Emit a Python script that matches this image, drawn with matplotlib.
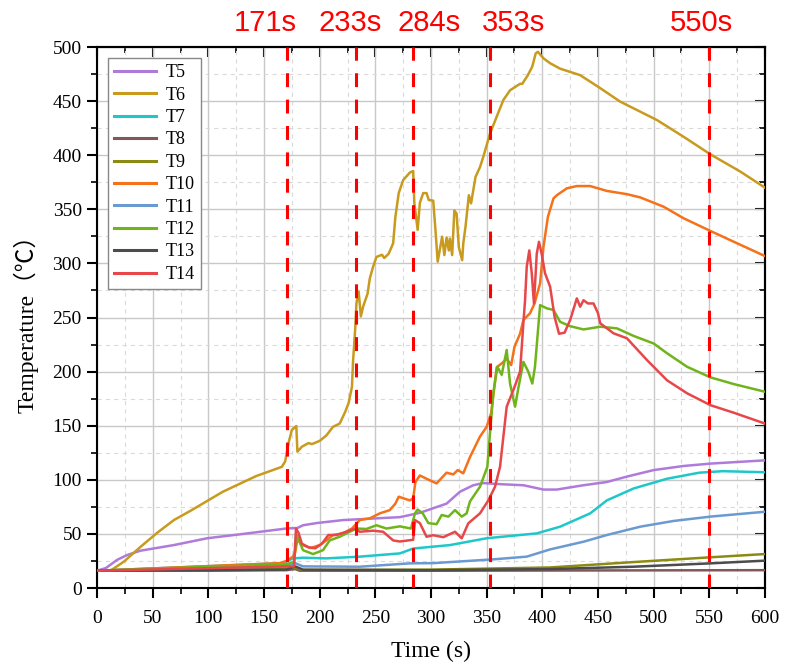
import matplotlib
matplotlib.use("Agg")
import matplotlib.pyplot as plt
import matplotlib.transforms as mtransforms
from matplotlib.ticker import MultipleLocator

# ---------------- data ----------------
labels = ["T5", "T6", "T7", "T8", "T9", "T10", "T11", "T12", "T13", "T14"]
colors = ["#AE7BDB", "#C89B1E", "#1FC7C9", "#80585A", "#8B8A12",
          "#F5711A", "#6A9AD0", "#70B41C", "#4C4C4C", "#E8474A"]

t5_t = [0, 8, 18, 27, 39, 69, 99, 128, 170, 180, 185, 197, 221, 251, 272, 281, 290, 314, 326, 338,
        347, 362, 383, 401, 413, 437, 458, 476, 500, 527, 551, 600]
t5_v = [16, 18.5, 26, 30.5, 34.5, 39.7, 46, 49.6, 55, 55.5, 58, 60, 62.8, 64.4, 65.5, 67.5, 69.5, 78, 89, 95,
        97, 96, 95, 91, 91, 95, 98, 103, 109, 112.8, 115, 118]

t6_t = [0, 12, 24, 39, 54, 69, 84, 113, 143, 166, 169, 172, 175, 179, 180, 184, 190, 193, 200, 206,
        212, 218, 223, 226, 229, 230, 232, 233, 235, 237, 239, 243, 245, 248, 251, 256, 258, 262, 266, 268,
        271, 275, 281, 284, 285, 288, 290, 293, 296, 298, 302, 304, 306, 310, 312, 314, 316, 317, 319, 321,
        323, 325, 328, 329, 331, 334, 336, 340, 344, 347, 353, 359, 365, 371, 380, 382, 387, 391, 394, 396,
        399, 401, 407, 416, 434, 452, 470, 503, 527, 551, 578, 600]
t6_v = [16, 16, 24.3, 38, 51, 62.8, 71.4, 89, 103.5, 112, 117, 134, 146, 149.7, 126, 130.6, 134, 133, 136, 141,
        149, 152, 163, 171, 186, 210, 241, 263, 274, 251, 260, 272, 286, 297, 306, 308, 305, 309, 318.6, 343,
        365, 377, 384, 385.4, 356, 331, 356, 365, 365, 358.6, 358, 331, 301.6, 324.7, 307.7, 324, 312, 323, 307.7, 349,
        346, 315, 303, 318.6, 334, 363, 355.5, 380, 389, 398.6, 420, 435.6, 451, 460, 466, 466, 474, 482, 494, 495.6,
        492, 489.6, 485, 480, 474, 462, 449.5, 432.5, 417, 400.8, 384.8, 370]

t7_t = [0, 167, 176, 185, 206, 236, 260, 272, 284, 317, 350, 395, 416, 443, 458, 482, 512, 541, 562, 600]
t7_v = [16, 23, 27.4, 28, 27.4, 29, 31, 32, 36.5, 39.7, 46, 50.5, 56.7, 69, 81, 92, 101, 106.6, 108, 107]

t8_t = [0, 100, 170, 178, 182, 300, 600]
t8_v = [16, 16, 16.5, 17.5, 16, 16, 16.5]

t9_t = [0, 170, 178, 185, 300, 407, 482, 551, 600]
t9_v = [16, 18, 19, 16.5, 17, 19, 24, 28.4, 31.4]

t10_t = [0, 164, 170, 176, 178, 180, 184, 192, 200, 206, 212, 221, 229, 236, 245, 254, 263, 268, 271, 275,
         281, 284, 286, 290, 296, 305, 314, 320, 324, 329, 335, 344, 350, 354, 359, 364, 368, 372, 375, 380,
         383, 389, 393, 398, 401, 405, 410, 413, 422, 431, 443, 458, 476, 488, 509, 527, 551, 575, 600]
t10_v = [16, 23, 25, 29, 33, 45, 40, 37, 39.7, 44, 49, 50.5, 55, 62.8, 64.4, 69, 72, 78, 84.4, 83,
         81, 83, 98, 104, 101, 96.7, 106.6, 105, 109, 106, 121, 140, 149, 161.5, 204, 208, 212, 206, 223, 235,
         247.7, 254, 263, 281.6, 315, 343, 360, 363, 369.4, 371.5, 371.5, 367, 364, 361, 352.4, 341.7, 330, 318.6, 306.8]

t11_t = [0, 170, 178, 185, 236, 281, 302, 356, 386, 407, 437, 458, 488, 518, 551, 600]
t11_v = [16, 20, 23, 20, 19.7, 22.8, 23, 26.5, 29, 35.7, 42.8, 49, 56.7, 62, 66, 70.5]

t12_t = [0, 170, 177, 179, 181, 185, 194, 203, 209, 218, 227, 233, 242, 251, 260, 272, 282, 285.6, 288, 292.6,
         297.6, 305, 309.6, 315.6, 321.6, 327.6, 332, 335, 344, 350.6, 353, 356, 359.6, 363.5, 368, 371, 375.5, 378.5, 383, 387.4,
         391, 393.4, 398, 404, 410, 416, 425, 437, 452, 467, 482, 500, 512, 530, 551, 572, 600]
t12_v = [16, 22, 24, 50, 45, 35, 31.4, 35, 44, 47.4, 52, 55, 54.6, 58, 55, 57, 55, 69, 72.5, 69,
         60, 59, 67.5, 66, 72, 66, 69, 80, 93.6, 112, 143, 180, 204.5, 197, 220, 189, 167.6, 185, 209, 200,
         189, 204.5, 261.5, 258.5, 257, 246, 242, 239, 241.5, 240, 233, 226, 217, 204.5, 194.7, 188.5, 181.4]

t13_t = [0, 170, 178, 185, 300, 407, 482, 551, 600]
t13_v = [16, 17, 20, 17, 16.5, 17.5, 19.7, 22.8, 25.3]

t14_t = [0, 170, 177, 178.7, 181, 184, 190, 196, 202, 207.8, 215, 224, 231.7, 236, 248, 257, 266, 272, 284, 285.6,
         290, 296, 302, 311, 321.6, 327.6, 333.5, 344, 351.5, 357.5, 362, 368, 374, 380, 383, 384.5, 386, 388.3, 390.5, 392.5,
         395, 397, 399.4, 402.4, 407, 411, 415, 420, 425, 431, 434, 437, 441, 446, 450, 452, 464, 476, 494, 512,
         530, 551, 572, 600]
t14_v = [16, 20, 20, 55, 51, 41, 37.6, 36.7, 41, 49, 49, 52, 55, 52, 53, 52, 44, 43, 44.6, 62.8,
         60, 47.4, 48.8, 47, 52, 46, 59.8, 69, 81, 93.6, 112, 167.6, 183, 200, 245, 266, 297, 312, 291, 263,
         309, 320, 309, 291, 278.5, 250.7, 235, 236, 247.7, 267.7, 260, 266, 263, 263, 254, 244.7, 235.4, 230.8, 210.7, 192,
         180, 169, 162, 152]

series_t = [t5_t, t6_t, t7_t, t8_t, t9_t, t10_t, t11_t, t12_t, t13_t, t14_t]
series_v = [t5_v, t6_v, t7_v, t8_v, t9_v, t10_v, t11_v, t12_v, t13_v, t14_v]

events = [171, 233, 284, 353, 550]
event_labels = ["171s", "233s", "284s", "353s", "550s"]

# ---------------- figure ----------------
plt.rcParams['lines.scale_dashes'] = False
serif = ['Liberation Serif', 'Noto Sans CJK SC', 'DejaVu Serif']

fig = plt.figure(figsize=(7.87, 6.67), dpi=100)
ax = fig.add_axes([0.1233, 0.1184, 0.8487, 0.8111])

for tt, vv, lab, col in zip(series_t, series_v, labels, colors):
    assert len(tt) == len(vv), lab
    ax.plot(tt, vv, color=col, lw=1.8, label=lab, zorder=3)

for ev in events:
    ax.axvline(ev, color='#FF0000', lw=2.2, dashes=(10, 9), zorder=4)

trans = mtransforms.blended_transform_factory(ax.transData, ax.transAxes)
label_shift = [-20, -6, 14, 21.5, -7]
for ev, lab, sh in zip(events, event_labels, label_shift):
    ax.text(ev + sh, 1.045, lab, transform=trans, color='#FF0000', fontsize=21,
            family=['Liberation Sans', 'DejaVu Sans'], ha='center', va='center')

ax.set_xlim(0, 600)
ax.set_ylim(0, 500)
ax.xaxis.set_major_locator(MultipleLocator(50))
ax.xaxis.set_minor_locator(MultipleLocator(25))
ax.yaxis.set_major_locator(MultipleLocator(50))
ax.yaxis.set_minor_locator(MultipleLocator(25))

ax.grid(which='major', color='#C8C8C8', lw=1.0, ls='-', zorder=0)
ax.grid(which='minor', color='#DADADA', lw=0.8, ls=(0, (3, 3)), zorder=0)
ax.set_axisbelow(True)

for sp in ax.spines.values():
    sp.set_linewidth(1.5)
    sp.set_color('black')

ax.tick_params(which='major', direction='out', length=7, width=1.5, top=False, right=False,
               labelsize=14)
ax.tick_params(axis='x', which='major', pad=9)
ax.tick_params(axis='y', which='major', pad=4)
ax.tick_params(which='minor', direction='out', length=4, width=1.2, top=False, right=False)
for lab in ax.get_xticklabels() + ax.get_yticklabels():
    lab.set_family(serif)

# inward ticks on top and right
ax_top = ax.secondary_xaxis('top')
ax_top.xaxis.set_major_locator(MultipleLocator(50))
ax_top.xaxis.set_minor_locator(MultipleLocator(25))
ax_top.tick_params(which='major', direction='in', length=7, width=1.5, labeltop=False)
ax_top.tick_params(which='minor', direction='in', length=4, width=1.2)
ax_top.spines['top'].set_linewidth(1.5)
ax_right = ax.secondary_yaxis('right')
ax_right.yaxis.set_major_locator(MultipleLocator(50))
ax_right.yaxis.set_minor_locator(MultipleLocator(25))
ax_right.tick_params(which='major', direction='in', length=7, width=1.5, labelright=False)
ax_right.tick_params(which='minor', direction='in', length=4, width=1.2)
ax_right.spines['right'].set_linewidth(1.5)

ax.set_xlabel("Time (s)", fontsize=17, family=serif, labelpad=10)
ax.set_ylabel("Temperature（℃）", fontsize=17, family=serif, labelpad=10)

leg = ax.legend(loc='upper left', bbox_to_anchor=(0.0165, 0.98), borderaxespad=0,
                fancybox=False, frameon=True, edgecolor='#888888', framealpha=1,
                prop={'family': serif, 'size': 13}, handlelength=2.3, handletextpad=0.55,
                labelspacing=0.3, borderpad=0.35)
leg.get_frame().set_linewidth(1.0)
for h in leg.get_lines():
    h.set_linewidth(2.2)

fig.savefig("out.png", dpi=100)
